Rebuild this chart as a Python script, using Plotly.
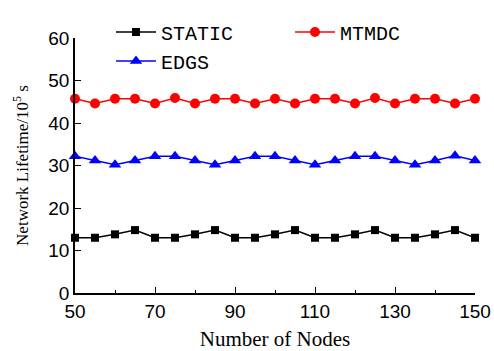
import plotly.graph_objects as go

nodes = [50, 55, 60, 65, 70, 75, 80, 85, 90, 95, 100, 105, 110, 115, 120, 125, 130, 135, 140, 145, 150]
static = [13.0, 13.0, 13.8, 14.8, 13.0, 13.0, 13.8, 14.8, 13.0, 13.0, 13.8, 14.8, 13.0, 13.0, 13.8, 14.8, 13.0, 13.0, 13.8, 14.8, 13.0]
mtmdc = [45.7, 44.6, 45.7, 45.7, 44.6, 45.9, 44.6, 45.7, 45.7, 44.6, 45.7, 44.6, 45.7, 45.7, 44.6, 45.9, 44.6, 45.7, 45.7, 44.6, 45.7]
edgs = [32.2, 31.2, 30.2, 31.2, 32.2, 32.2, 31.2, 30.2, 31.2, 32.2, 32.2, 31.2, 30.2, 31.2, 32.2, 32.2, 31.2, 30.2, 31.2, 32.3, 31.2]

fig = go.Figure()
fig.add_trace(go.Scatter(x=nodes, y=static, name="STATIC", mode="lines+markers",
                         line=dict(color="black", width=1.5),
                         marker=dict(symbol="square", size=8, color="black"),
                         cliponaxis=False))
fig.add_trace(go.Scatter(x=nodes, y=mtmdc, name="MTMDC", mode="lines+markers",
                         line=dict(color="red", width=1.5),
                         marker=dict(symbol="circle", size=10, color="red"),
                         cliponaxis=False))
fig.add_trace(go.Scatter(x=nodes, y=edgs, name="EDGS", mode="lines+markers",
                         line=dict(color="blue", width=1.5),
                         marker=dict(symbol="triangle-up", size=11, color="blue"),
                         cliponaxis=False))

axis_font = dict(family="Liberation Sans, Arial", size=19, color="black")
fig.update_layout(
    width=494, height=351,
    margin=dict(l=75, r=19, t=20, b=58),
    paper_bgcolor="white", plot_bgcolor="white",
    showlegend=True,
    legend=dict(orientation="h", x=0.09, y=1.1, xanchor="left", yanchor="top",
                entrywidth=124, bgcolor="rgba(0,0,0,0)",
                font=dict(family="Liberation Mono", size=20, color="black"),
                tracegroupgap=0, itemwidth=40),
    xaxis=dict(range=[50, 150], tickmode="array", tickvals=[50, 70, 90, 110, 130, 150],
               ticks="inside", ticklen=6, tickwidth=1, tickcolor="black",
               minor=dict(ticks="inside", ticklen=3, tickwidth=1, tickcolor="black", dtick=10, tick0=50),
               showline=True, linecolor="black", linewidth=1.5, showgrid=False, zeroline=False,
               tickfont=axis_font, automargin=False,
               title=dict(text="Number of Nodes", font=dict(family="Liberation Serif", size=21, color="black"), standoff=16)),
    yaxis=dict(range=[0, 60], tickmode="array", tickvals=[0, 10, 20, 30, 40, 50, 60],
               ticks="inside", ticklen=6, tickwidth=1, tickcolor="black",
               showline=True, linecolor="black", linewidth=1.5, showgrid=False, zeroline=False,
               tickfont=axis_font, automargin=False,
               title=dict(text="Network Lifetime/10<sup>5</sup> s", font=dict(family="Liberation Serif", size=17, color="black"), standoff=15)),
)

fig.write_html("out.html")
